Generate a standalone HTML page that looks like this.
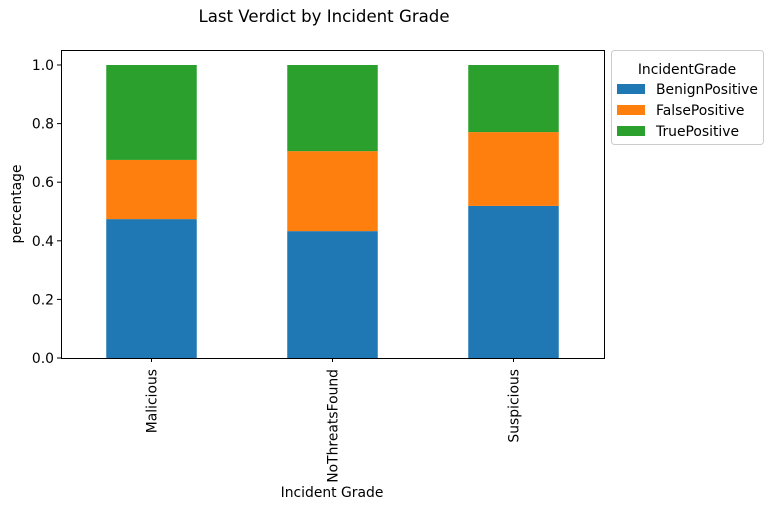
<!DOCTYPE html>
<html><head><meta charset="utf-8"><style>body{margin:0;background:#fff}svg{display:block;font-family:"DejaVu Sans","Liberation Sans",sans-serif}</style></head>
<body>
<svg id="chart" width="772" height="511" viewBox="0 0 772 511">
<text x="324" y="22" font-size="16.6" text-anchor="middle">Last Verdict by Incident Grade</text>
<g id="plot"></g>
<text transform="translate(21,204) rotate(-90)" font-size="13.9" text-anchor="middle">percentage</text>
<text x="332" y="497" font-size="13.9" text-anchor="middle">Incident Grade</text>
<g>
<rect x="611.5" y="50.5" width="152" height="94" rx="3" fill="#fff" stroke="#ccc"/>
<text x="687" y="74" font-size="13.9" text-anchor="middle">IncidentGrade</text>
<g id="legend-items"></g>
</g>
</svg>
<script>
const categories=["Malicious","NoThreatsFound","Suspicious"];
const seriesNames=["BenignPositive","FalsePositive","TruePositive"];
const benign=[0.474,0.433,0.519];
const falsePos=[0.202,0.273,0.252];
const truePos=[0.324,0.294,0.229];
const yTicks=[0,0.2,0.4,0.6,0.8,1.0];
const colors=["#1f77b4","#ff7f0e","#2ca02c"];
const series=[benign,falsePos,truePos];
const NS="http://www.w3.org/2000/svg";
const L=61,R=604,T=50,B=358;
const y=v=>B-v*(B-65)/1.0;
const step=(R-L)/categories.length;
const x=i=>L+step*(i+0.5);
const g=document.getElementById('plot');
function mk(tag,attrs,parent){const e=document.createElementNS(NS,tag);for(const k in attrs)e.setAttribute(k,attrs[k]);(parent||g).appendChild(e);return e;}
categories.forEach((c,i)=>{let base=0;series.forEach((s,j)=>{const r=mk('rect',{x:x(i)-step/4,y:y(base+s[i]),width:step/2,height:y(base)-y(base+s[i]),fill:colors[j]});


base+=s[i];});
mk('line',{x1:x(i),x2:x(i),y1:B,y2:B+4,stroke:'#000'});
const t=mk('text',{transform:`translate(${x(i)+5},${B+11}) rotate(-90)`,'font-size':13.9,'text-anchor':'end'});t.textContent=c;

});
yTicks.forEach(v=>{mk('line',{x1:L-4,x2:L,y1:y(v),y2:y(v),stroke:'#000'});
const t=mk('text',{x:L-7,y:y(v)+5,'font-size':13.9,'text-anchor':'end'});t.textContent=v.toFixed(1);

});
mk('rect',{x:L+0.5,y:T+0.5,width:R-L,height:B-T,fill:'none',stroke:'#000'});
const lg=document.getElementById('legend-items');
seriesNames.forEach((n,j)=>{const yy=89+j*21;
const r=mk('rect',{x:617,y:yy-5,width:28,height:10,fill:colors[j]},lg);


const t=mk('text',{x:656,y:yy+5,'font-size':13.9},lg);t.textContent=n;

});
</script>
</body></html>
